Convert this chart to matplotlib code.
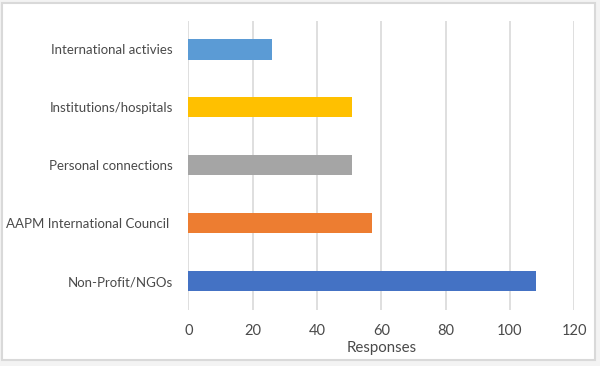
import matplotlib
matplotlib.use("Agg")
import matplotlib.pyplot as plt
from matplotlib.patches import Rectangle

categories = ["Non-Profit/NGOs", "AAPM International Council ", "Personal connections",
              "Institutions/hospitals", "International activies"]
values = [108, 57, 51, 51, 26]
colors = ["#4472C4", "#ED7D31", "#A5A5A5", "#FFC000", "#5B9BD5"]
xticks = [0, 20, 40, 60, 80, 100, 120]

plt.rcParams['font.family'] = ['Lato', 'DejaVu Sans']
W, H = 600, 366
fig = plt.figure(figsize=(W/100, H/100), dpi=100, facecolor="#f3f3f3")
fig.patches.append(Rectangle((2/W, 1-360/H), 593/W, 357/H, transform=fig.transFigure,
                             facecolor="white", edgecolor="#d9d9d9", linewidth=1.5, zorder=-10))

ax = fig.add_axes([188.3/W, 1-310/H, (574.3-188.3)/W, (310-20.5)/H])
ax.set_facecolor("none")
ypos = list(range(len(categories)))
ax.barh(ypos, values, height=0.35, color=colors, zorder=3)
ax.set_xlim(0, 120)
ax.set_ylim(-0.5, 4.5)
ax.set_xticks(xticks)
ax.set_yticks(ypos)
ax.set_yticklabels(categories)
ax.grid(axis="x", color="#d9d9d9", linewidth=1.2, zorder=0)
for s in ax.spines.values():
    s.set_visible(False)
ax.tick_params(axis="both", length=0, labelcolor="#4a4a4a")
ax.tick_params(axis="x", pad=10, labelsize=10.5)
ax.tick_params(axis="y", pad=11, labelsize=9.5)
ax.set_xlabel("Responses", fontsize=10.8, color="#4a4a4a", labelpad=2)

fig.savefig("out.png", dpi=100, facecolor=fig.get_facecolor())
